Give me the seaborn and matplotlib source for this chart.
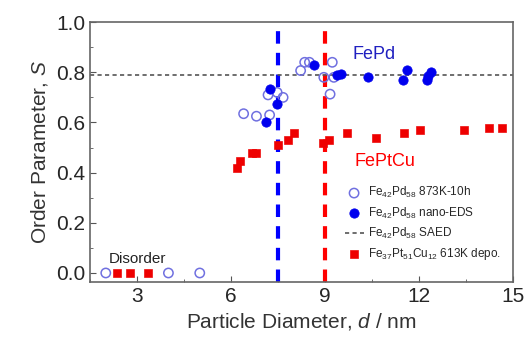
import numpy as np
import pandas as pd
import matplotlib.pyplot as plt
import seaborn as sns
from matplotlib.ticker import MultipleLocator

# FePd annealed 873K-10h (open circles)
open_d = [2.0, 4.0, 5.0, 6.40, 6.81, 7.23, 7.18, 7.47, 7.66, 8.22, 8.35, 8.50, 9.23, 8.96, 9.28, 9.16]
open_s = [0.0, 0.0, 0.0, 0.635, 0.625, 0.63, 0.71, 0.72, 0.70, 0.807, 0.84, 0.84, 0.84, 0.78, 0.78, 0.713]

# FePd nano-EDS (filled circles)
eds_d = [7.10, 7.45, 7.23, 8.64, 9.39, 9.52, 10.38, 11.48, 11.63, 12.24, 12.38, 12.30]
eds_s = [0.60, 0.675, 0.735, 0.83, 0.79, 0.795, 0.78, 0.77, 0.81, 0.77, 0.80, 0.785]

# FePtCu 613K deposition (squares)
ptcu_d = [2.37, 2.78, 3.36, 6.19, 6.30, 6.67, 6.81, 7.51, 7.81, 8.00, 8.92, 9.14, 9.71,
          10.62, 11.52, 12.02, 13.44, 14.24, 14.64]
ptcu_s = [0.0, 0.0, 0.0, 0.42, 0.445, 0.48, 0.48, 0.51, 0.53, 0.56, 0.52, 0.53, 0.56,
          0.54, 0.56, 0.57, 0.57, 0.58, 0.58]

saed_s = 0.79
crit_fepd = 7.5
crit_feptcu = 9.0

labels = ['Fe$_{42}$Pd$_{58}$ 873K-10h', 'Fe$_{42}$Pd$_{58}$ nano-EDS',
          'Fe$_{42}$Pd$_{58}$ SAED', 'Fe$_{37}$Pt$_{51}$Cu$_{12}$ 613K depo.']

sns.set_style("ticks")
plt.rcParams['font.family'] = ['Liberation Sans', 'DejaVu Sans']
plt.rcParams['mathtext.fontset'] = 'custom'
plt.rcParams['mathtext.rm'] = 'Liberation Sans'
plt.rcParams['mathtext.it'] = 'Liberation Sans:italic'

fig = plt.figure(figsize=(5.3, 3.41), dpi=100)
ax = fig.add_axes([0.17, 0.173, 0.798, 0.762])

ax.axvline(crit_fepd, color='#0000ff', lw=3, ls=(0, (3, 2.2)), zorder=1)
ax.axvline(crit_feptcu, color='#ff0000', lw=3, ls=(0, (3, 2.2)), zorder=1)

sns.scatterplot(x=open_d, y=open_s, ax=ax, marker='o', s=45, facecolor='none',
                edgecolor='#7070e0', linewidth=1.1, label=labels[0], zorder=3)
sns.scatterplot(x=eds_d, y=eds_s, ax=ax, marker='o', s=45, color='#0000ee',
                edgecolor='#0000ee', label=labels[1], zorder=4)
ax.axhline(saed_s, color='#555555', lw=1.2, ls=(0, (2.5, 2)), zorder=2, label=labels[2])
sns.scatterplot(x=ptcu_d, y=ptcu_s, ax=ax, marker='s', s=32, color='#ee0000',
                edgecolor='#ee0000', label=labels[3], zorder=3)

ax.set_xlim(1.5, 15)
ax.set_ylim(-0.036, 1.0)
ax.xaxis.set_major_locator(MultipleLocator(3))
ax.xaxis.set_minor_locator(MultipleLocator(1.5))
ax.yaxis.set_major_locator(MultipleLocator(0.2))
ax.yaxis.set_minor_locator(MultipleLocator(0.1))
ax.yaxis.set_major_formatter(plt.FormatStrFormatter('%.1f'))
ax.tick_params(which='both', direction='in', labelsize=15, color='#555555')
ax.tick_params(which='major', length=4)
ax.tick_params(which='minor', length=2.5)
for sp in ax.spines.values():
    sp.set_color('#666666')
    sp.set_linewidth(1.2)

ax.set_xlabel('Particle Diameter, $d$ / nm', fontsize=15, color='#333333')
ax.set_ylabel('Order Parameter, $S$', fontsize=15, color='#333333')

ax.text(10.55, 0.87, 'FePd', color='#2020c0', fontsize=13, ha='center', va='center')
ax.text(10.9, 0.445, 'FePtCu', color='#ff0000', fontsize=13, ha='center', va='center')
ax.text(2.1, 0.055, 'Disorder', color='#222222', fontsize=11, ha='left', va='center')

h, l = ax.get_legend_handles_labels()
hmap = dict(zip(l, h))
ax.legend([hmap[w] for w in labels], labels, loc='lower right', frameon=False,
          fontsize=8.5, handlelength=1.6, handletextpad=0.4, labelspacing=0.45,
          borderaxespad=0.6, bbox_to_anchor=(1.0, 0.03))

fig.savefig('out.png', dpi=100)
